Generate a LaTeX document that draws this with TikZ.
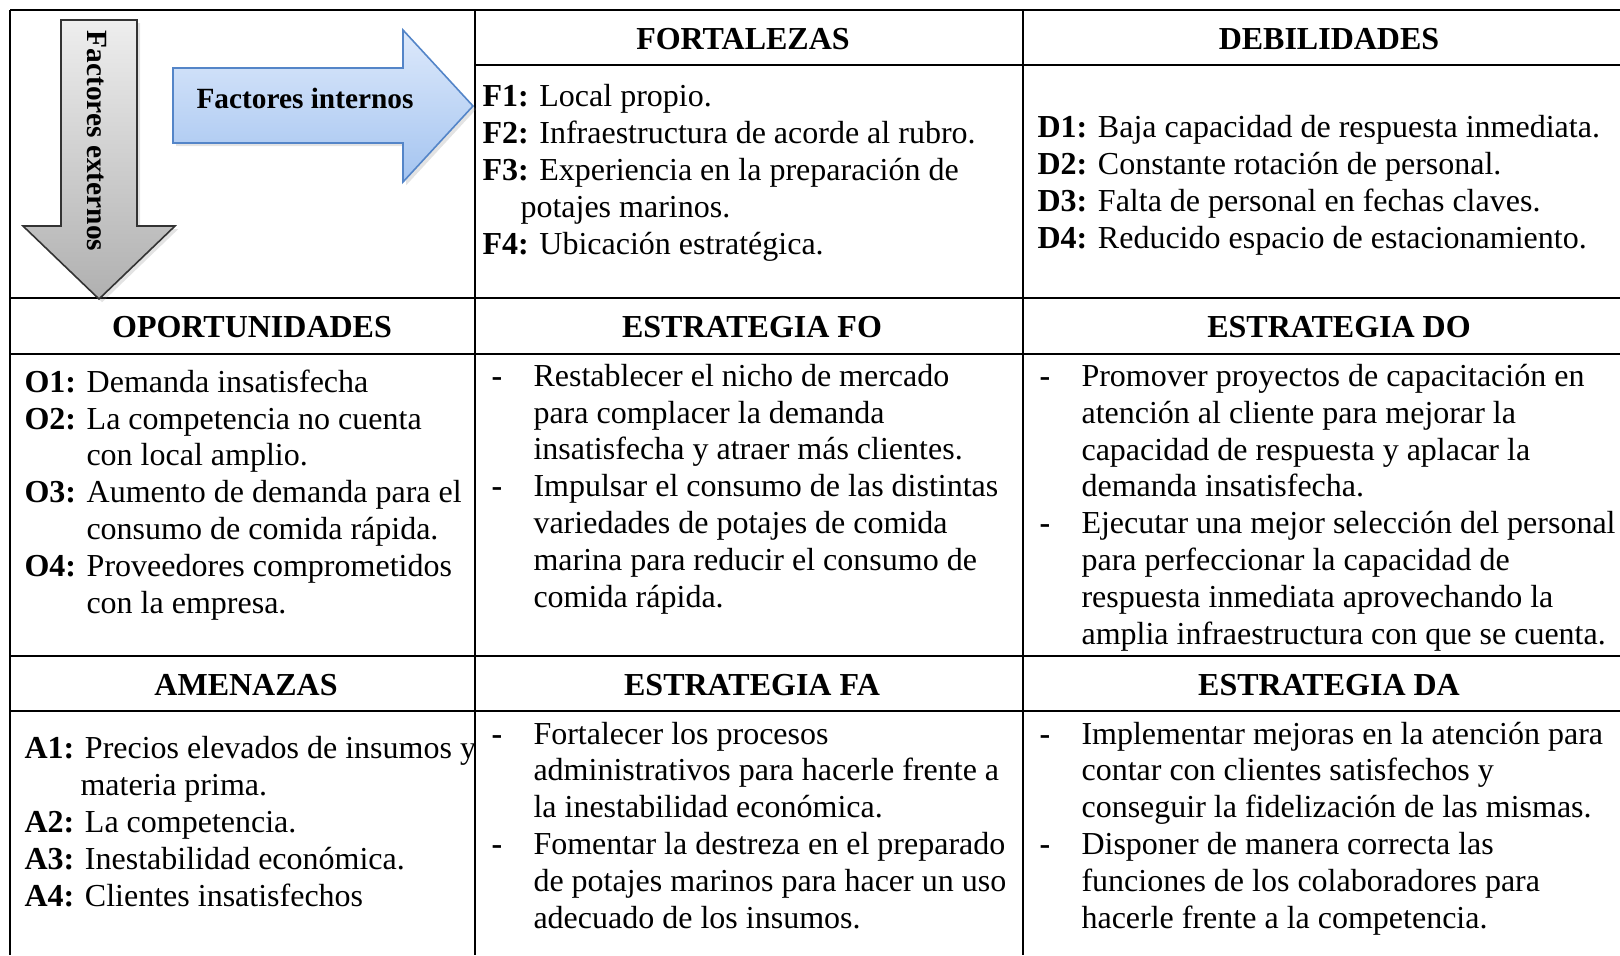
\documentclass[tikz,border=0pt]{standalone}
\usepackage{fontspec}
\setmainfont{Liberation Serif}
\usetikzlibrary{shadows}
\definecolor{azulclaro}{RGB}{221,233,251}
\definecolor{azulmedio}{RGB}{164,196,240}
\definecolor{azulborde}{RGB}{84,133,200}
\definecolor{grisclaro}{RGB}{238,238,238}
\definecolor{grisoscuro}{RGB}{176,176,176}
\newcommand{\guion}{\makebox[15.75pt][l]{\textbf{-}}}
\newcommand{\sangria}{\hspace*{15.75pt}}

\begin{document}
\begin{tikzpicture}[x=0.375pt, y=-0.375pt,
    celda/.style={line width=0.8pt},
    titulo/.style={font=\fontsize{12}{13.8}\selectfont\bfseries, inner sep=0pt},
    texto/.style={font=\fontsize{12}{13.8}\selectfont, align=left, anchor=base west, inner sep=0pt},
    rotulo/.style={font=\fontsize{11}{13}\selectfont\bfseries, inner sep=0pt},
    sombra/.style={drop shadow={opacity=0.22, shadow xshift=1.2pt, shadow yshift=-1.2pt}}]
  \useasboundingbox (0,0) rectangle (1620,955);

  % rejilla de la matriz
  \draw[celda] (10,10) -- (1620,10);
  \draw[celda] (475,65) -- (1620,65);
  \foreach \y in {298,354,656,711}
    \draw[celda] (10,\y) -- (1620,\y);
  \foreach \x in {10,475,1023}
    \draw[celda] (\x,10) -- (\x,955);

  % flechas de factores
  \shadedraw[sombra, top color=grisclaro, bottom color=grisoscuro, draw=black!80, line width=0.6pt]
    (61,20) -- (137,20) -- (137,226) -- (175,226) -- (99,299) -- (23,226) -- (61,226) -- cycle;
  \shadedraw[sombra, top color=azulclaro, bottom color=azulmedio, draw=azulborde, line width=0.6pt]
    (173,68) -- (403,68) -- (403,30) -- (473,106) -- (403,182) -- (403,143) -- (173,143) -- cycle;
  \node[rotulo, rotate=-90] (lext) at (97,141) {Factores externos};
  \node[rotulo] (lint) at (305,98) {Factores internos};

  % encabezados
  \node[titulo] (hF) at (743,39) {FORTALEZAS};
  \node[titulo] (hD) at (1329,39) {DEBILIDADES};
  \node[titulo] (hO) at (252,327) {OPORTUNIDADES};
  \node[titulo] (hFO) at (752,327) {ESTRATEGIA FO};
  \node[titulo] (hDO) at (1339,327) {ESTRATEGIA DO};
  \node[titulo] (hA) at (246,685) {AMENAZAS};
  \node[titulo] (hFA) at (752,685) {ESTRATEGIA FA};
  \node[titulo] (hDA) at (1329,685) {ESTRATEGIA DA};

  % contenido (el ancla es la base de la ultima linea)
  \node[texto] (fort) at (482,254) {\textbf{F1:} Local propio.\\
    \textbf{F2:} Infraestructura de acorde al rubro.\\
    \textbf{F3:} Experiencia en la preparación de\\
    \hspace*{14.25pt}potajes marinos.\\
    \textbf{F4:} Ubicación estratégica.};
  \node[texto] (debi) at (1037,248) {\textbf{D1:} Baja capacidad de respuesta inmediata.\\
    \textbf{D2:} Constante rotación de personal.\\
    \textbf{D3:} Falta de personal en fechas claves.\\
    \textbf{D4:} Reducido espacio de estacionamiento.};
  \node[texto] (opor) at (24,613) {\textbf{O1:} Demanda insatisfecha\\
    \textbf{O2:} La competencia no cuenta\\
    \hspace*{23.25pt}con local amplio.\\
    \textbf{O3:} Aumento de demanda para el\\
    \hspace*{23.25pt}consumo de comida rápida.\\
    \textbf{O4:} Proveedores comprometidos\\
    \hspace*{23.25pt}con la empresa.};
  \node[texto] (amen) at (24,906) {\textbf{A1:} Precios elevados de insumos y\\
    \hspace*{21pt}materia prima.\\
    \textbf{A2:} La competencia.\\
    \textbf{A3:} Inestabilidad económica.\\
    \textbf{A4:} Clientes insatisfechos};
  \node[texto] (eFO) at (491,607) {\guion Restablecer el nicho de mercado\\
    \sangria para complacer la demanda\\
    \sangria insatisfecha y atraer más clientes.\\
    \guion Impulsar el consumo de las distintas\\
    \sangria variedades de potajes de comida\\
    \sangria marina para reducir el consumo de\\
    \sangria comida rápida.};
  \node[texto] (eDO) at (1039,644) {\guion Promover proyectos de capacitación en\\
    \sangria atención al cliente para mejorar la\\
    \sangria capacidad de respuesta y aplacar la\\
    \sangria demanda insatisfecha.\\
    \guion Ejecutar una mejor selección del personal\\
    \sangria para perfeccionar la capacidad de\\
    \sangria respuesta inmediata aprovechando la\\
    \sangria amplia infraestructura con que se cuenta.};
  \node[texto] (eFA) at (491,928) {\guion Fortalecer los procesos\\
    \sangria administrativos para hacerle frente a\\
    \sangria la inestabilidad económica.\\
    \guion Fomentar la destreza en el preparado\\
    \sangria de potajes marinos para hacer un uso\\
    \sangria adecuado de los insumos.};
  \node[texto] (eDA) at (1039,928) {\guion Implementar mejoras en la atención para\\
    \sangria contar con clientes satisfechos y\\
    \sangria conseguir la fidelización de las mismas.\\
    \guion Disponer de manera correcta las\\
    \sangria funciones de los colaboradores para\\
    \sangria hacerle frente a la competencia.};
\end{tikzpicture}
\end{document}
